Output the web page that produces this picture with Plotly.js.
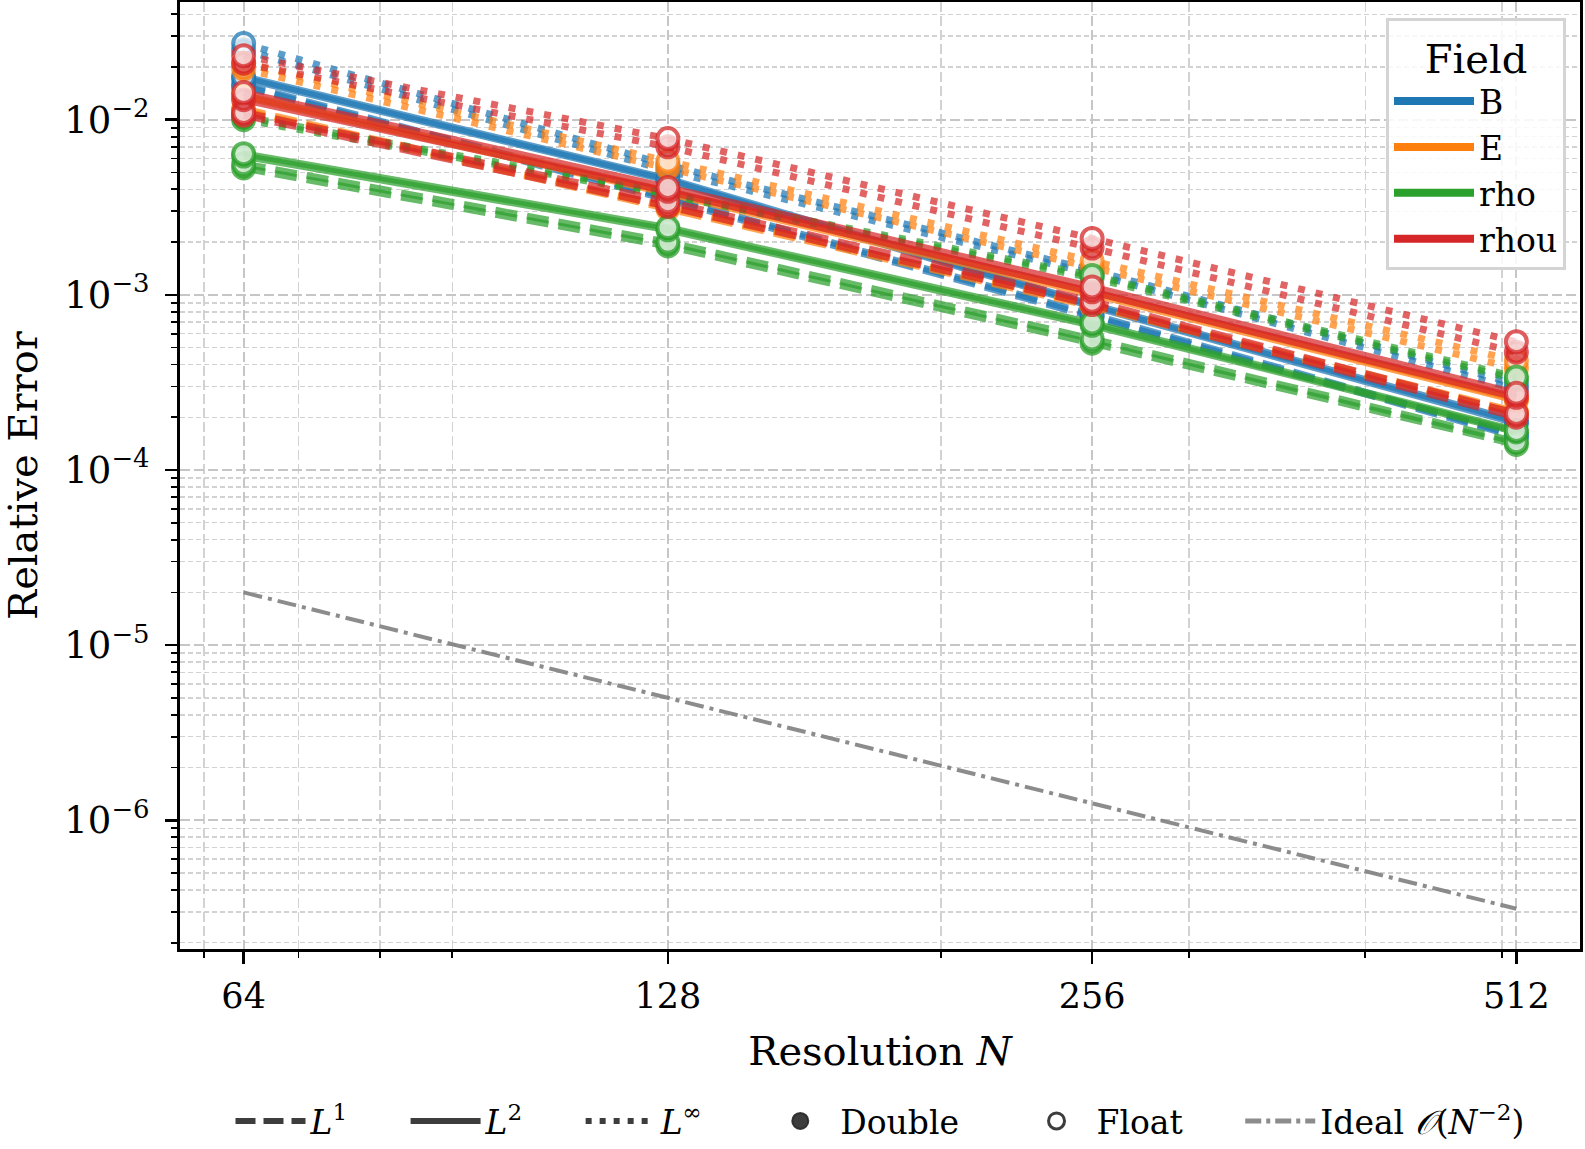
<!DOCTYPE html>
<html>
<head>
<meta charset="utf-8">
<script src="https://cdn.plot.ly/plotly-3.0.1.min.js"></script>
<style>html,body{margin:0;padding:0;background:#fff;}#chart{width:1585px;height:1149px;}</style>
</head>
<body>
<div id="chart"></div>
<script>
// ---- data ----
const resolutions = [64, 128, 256, 512];
const fields = ["B", "E", "rho", "rhou"];
const fieldColors = ["31,119,180", "255,127,14", "44,160,44", "214,39,40"];
const norms = ["L1", "L2", "Linf"];
const precisions = ["Double", "Float"];

// B
const B_L1_double   = [0.0155, 0.0035, 0.00075, 0.000155];
const B_L1_float    = [0.0158, 0.0036, 0.00077, 0.000158];
const B_L2_double   = [0.0172, 0.0045, 0.00086, 0.000185];
const B_L2_float    = [0.0176, 0.0046, 0.00088, 0.00019];
const B_Linf_double = [0.0250, 0.0051, 0.00132, 0.00029];
const B_Linf_float  = [0.0272, 0.0055, 0.00138, 0.00031];
// E
const E_L1_double   = [0.0112, 0.0031, 0.00086, 0.00021];
const E_L1_float    = [0.0115, 0.0032, 0.00088, 0.000215];
const E_L2_double   = [0.0135, 0.0038, 0.00101, 0.00025];
const E_L2_float    = [0.0138, 0.0039, 0.00104, 0.000255];
const E_Linf_double = [0.0195, 0.0053, 0.00143, 0.00038];
const E_Linf_float  = [0.0210, 0.0058, 0.00156, 0.00042];
// rho
const rho_L1_double   = [0.0053, 0.0019, 0.00053, 0.00014];
const rho_L1_float    = [0.0056, 0.0020, 0.00056, 0.000145];
const rho_L2_double   = [0.0062, 0.00235, 0.00067, 0.000165];
const rho_L2_float    = [0.0064, 0.00242, 0.00069, 0.000168];
const rho_Linf_double = [0.0100, 0.0037, 0.00125, 0.00033];
const rho_Linf_float  = [0.0104, 0.0038, 0.00129, 0.00034];
// rhou
const rhou_L1_double   = [0.0106, 0.0032, 0.00088, 0.00020];
const rhou_L1_float    = [0.0110, 0.0034, 0.00092, 0.00021];
const rhou_L2_double   = [0.0130, 0.0039, 0.00104, 0.00026];
const rhou_L2_float    = [0.0143, 0.0041, 0.00111, 0.000274];
const rhou_Linf_double = [0.0210, 0.0070, 0.00185, 0.00047];
const rhou_Linf_float  = [0.0232, 0.0078, 0.00210, 0.00054];

// Ideal O(N^-2) reference
const ideal = [2.0e-5, 5.0e-6, 1.25e-6, 3.125e-7];

const series = {
  B:    {L1: [B_L1_double, B_L1_float], L2: [B_L2_double, B_L2_float], Linf: [B_Linf_double, B_Linf_float]},
  E:    {L1: [E_L1_double, E_L1_float], L2: [E_L2_double, E_L2_float], Linf: [E_Linf_double, E_Linf_float]},
  rho:  {L1: [rho_L1_double, rho_L1_float], L2: [rho_L2_double, rho_L2_float], Linf: [rho_Linf_double, rho_Linf_float]},
  rhou: {L1: [rhou_L1_double, rhou_L1_float], L2: [rhou_L2_double, rhou_L2_float], Linf: [rhou_Linf_double, rhou_Linf_float]}
};

const xTickVals = [64, 128, 256, 512];
const xTickText = ["64", "128", "256", "512"];
const xMinorVals = [60, 70, 80, 90, 200, 300, 400, 500];
const yTickVals = [1e-6, 1e-5, 1e-4, 1e-3, 1e-2];
const yTickText = ["10<sup>−6</sup>", "10<sup>−5</sup>", "10<sup>−4</sup>", "10<sup>−3</sup>", "10<sup>−2</sup>"];
const yMinorVals = [];
for (let e = -7; e <= -2; e++) for (let m = 2; m <= 9; m++) yMinorVals.push(m * Math.pow(10, e));

// ---- styles ----
const dashFor = {L1: "22px,10px", L2: "solid", Linf: "7px,11px"};
const FONT = "DejaVu Serif, serif";
const SP = "\u00A0\u00A0\u00A0\u00A0\u00A0";

const traces = [];
fields.forEach((f, fi) => {
  const c = fieldColors[fi];
  norms.forEach(n => {
    precisions.forEach((p, pi) => {
      const isFloat = pi === 1;
      traces.push({
        x: resolutions, y: series[f][n][pi], type: "scatter", mode: "lines+markers",
        showlegend: false, hoverinfo: "skip",
        line: {color: "rgba(" + c + ",0.72)", width: 7, dash: dashFor[n]},
        marker: {
          symbol: "circle", size: 21,
          color: isFloat ? "rgba(255,255,255,0.72)" : "rgba(" + c + ",0.72)",
          line: {color: "rgba(" + c + ",0.75)", width: 4}
        }
      });
    });
  });
});

traces.push({
  x: resolutions, y: ideal, type: "scatter", mode: "lines", showlegend: false, hoverinfo: "skip",
  line: {color: "rgba(128,128,128,0.9)", width: 4, dash: "19px,6px,4px,6px"}
});

// Field legend
fields.forEach((f, fi) => {
  traces.push({x: [null], y: [null], type: "scatter", mode: "lines", name: f, legend: "legend",
    line: {color: "rgb(" + fieldColors[fi] + ")", width: 8}});
});
// Style legend
const dark = "rgba(40,40,40,0.9)";
traces.push({x: [null], y: [null], type: "scatter", mode: "lines", name: "<i>L</i><sup>1</sup>" + SP, legend: "legend2",
  line: {color: dark, width: 6, dash: "20px,8px"}});
traces.push({x: [null], y: [null], type: "scatter", mode: "lines", name: "<i>L</i><sup>2</sup>" + SP, legend: "legend2",
  line: {color: dark, width: 6, dash: "solid"}});
traces.push({x: [null], y: [null], type: "scatter", mode: "lines", name: "<i>L</i><sup>∞</sup>" + SP, legend: "legend2",
  line: {color: dark, width: 6, dash: "6px,8px"}});
traces.push({x: [null], y: [null], type: "scatter", mode: "markers", name: "Double" + SP, legend: "legend2",
  marker: {symbol: "circle", size: 16, color: dark, line: {color: dark, width: 2}}});
traces.push({x: [null], y: [null], type: "scatter", mode: "markers", name: "Float" + SP, legend: "legend2",
  marker: {symbol: "circle", size: 16, color: "white", line: {color: dark, width: 3}}});
traces.push({x: [null], y: [null], type: "scatter", mode: "lines", name: "Ideal <i>𝒪</i>(<i>N</i><sup>−2</sup>)", legend: "legend2",
  line: {color: "rgba(128,128,128,0.9)", width: 5, dash: "16px,5px,4px,5px"}});

const layout = {
  width: 1585, height: 1149,
  margin: {l: 180, r: 5, t: 2, b: 144},
  paper_bgcolor: "white", plot_bgcolor: "white",
  font: {family: FONT, color: "black", size: 33},
  xaxis: {
    type: "log", range: [Math.log10(64) - 0.045154, Math.log10(512) + 0.045154],
    tickmode: "array", tickvals: xTickVals, ticktext: xTickText,
    ticks: "outside", ticklen: 12, tickwidth: 2.5, tickcolor: "black",
    tickfont: {family: FONT, size: 35}, ticklabelstandoff: 2,
    showline: true, linecolor: "black", linewidth: 3, mirror: true,
    showgrid: true, gridcolor: "#c6c6c6", gridwidth: 2, griddash: "10px,4px",
    zeroline: false,
    minor: {tickmode: "array", tickvals: xMinorVals, ticks: "outside", ticklen: 6, tickwidth: 1.8, tickcolor: "black",
      showgrid: true, gridcolor: "#d2d2d2", gridwidth: 1.5, griddash: "10px,4px"},
    title: {text: "Resolution <i>N</i>", font: {family: FONT, size: 40}, standoff: 22}
  },
  yaxis: {
    type: "log", range: [-6.735, -1.328],
    tickmode: "array", tickvals: yTickVals, ticktext: yTickText,
    ticks: "outside", ticklen: 12, tickwidth: 2.5, tickcolor: "black",
    tickfont: {family: FONT, size: 37}, ticklabelstandoff: 8,
    showline: true, linecolor: "black", linewidth: 3, mirror: true,
    showgrid: true, gridcolor: "#c6c6c6", gridwidth: 2, griddash: "10px,4px",
    zeroline: false,
    minor: {tickmode: "array", tickvals: yMinorVals, ticks: "outside", ticklen: 6, tickwidth: 1.8, tickcolor: "black",
      showgrid: true, gridcolor: "#d2d2d2", gridwidth: 1.5, griddash: "5px,3px"},
    title: {text: "Relative Error", font: {family: FONT, size: 40}, standoff: 24}
  },
  legend: {
    title: {text: "Field", font: {family: FONT, size: 40}, side: "top center"},
    x: 0.99, xanchor: "right", y: 0.983, yanchor: "top",
    bgcolor: "rgba(255,255,255,0.85)", bordercolor: "#d4d4d4", borderwidth: 3,
    font: {family: FONT, size: 33}, tracegroupgap: 0, itemwidth: 80
  },
  legend2: {
    orientation: "h", x: 0.5, xanchor: "center", xref: "paper",
    y: 0.0, yanchor: "bottom", yref: "container",
    bgcolor: "rgba(0,0,0,0)", borderwidth: 0,
    font: {family: FONT, size: 33}, itemwidth: 70
  }
};

Plotly.newPlot("chart", traces, layout, {staticPlot: true, displayModeBar: false});
</script>
</body>
</html>
